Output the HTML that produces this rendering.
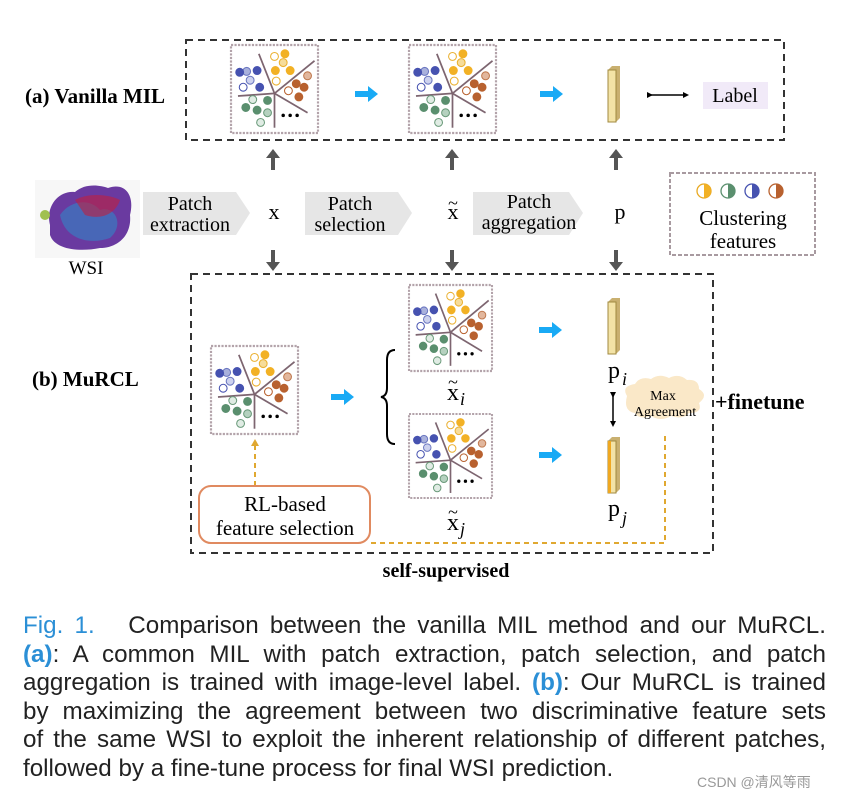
<!DOCTYPE html>
<html><head><meta charset="utf-8"><style>
body{margin:0;background:#fff;width:847px;height:802px;overflow:hidden;position:relative;font-family:"Liberation Serif",serif}
.cap{position:absolute;left:23px;top:612px;width:803px;font-family:"Liberation Sans",sans-serif;font-size:24.2px;line-height:28.6px;color:#222}
.cap div{text-align:justify;text-align-last:justify;white-space:nowrap;height:28.6px}
.cap div.l{text-align-last:left}
.cap b{color:#2b8fd6;font-weight:bold}
.blue{color:#2b8fd6}
</style></head><body>
<svg width="847" height="600" style="position:absolute;left:0;top:0" font-family="Liberation Serif, serif">
<defs>
<g id="pt">
<rect x="0" y="0" width="100" height="100" fill="#fff" stroke="#b3a3aa" stroke-width="2.5" stroke-dasharray="2.5,1.5"/>
<g stroke="#7d6570" stroke-width="2" fill="none">
<line x1="50" y1="55" x2="32" y2="10"/><line x1="50" y1="55" x2="96" y2="18"/><line x1="50" y1="55" x2="88" y2="77"/><line x1="50" y1="55" x2="50" y2="94"/><line x1="50" y1="55" x2="8" y2="58"/></g>
<g stroke-width="1.2">
<circle cx="18" cy="30" r="4.5" fill="#a9b1dc" stroke="#6a76c0"/><circle cx="10" cy="31" r="4.5" fill="#4652b0" stroke="#4652b0"/><circle cx="30" cy="29" r="4.5" fill="#4652b0" stroke="#4652b0"/><circle cx="22" cy="40" r="4.5" fill="#cdd2ee" stroke="#6a76c0"/><circle cx="14" cy="48" r="4.5" fill="#fff" stroke="#4652b0"/><circle cx="33" cy="48" r="4.5" fill="#4652b0" stroke="#4652b0"/>
<circle cx="50" cy="13" r="4.5" fill="#fff" stroke="#eab030"/><circle cx="62" cy="10" r="4.5" fill="#f2b125" stroke="#f2b125"/><circle cx="60" cy="20" r="4.5" fill="#f6dc9a" stroke="#eab030"/><circle cx="51" cy="29" r="4.5" fill="#f2b125" stroke="#f2b125"/><circle cx="68" cy="29" r="4.5" fill="#f2b125" stroke="#f2b125"/><circle cx="52" cy="41" r="4.5" fill="#fff" stroke="#eab030"/>
<circle cx="88" cy="35" r="4.5" fill="#e2b79d" stroke="#c07a50"/><circle cx="75" cy="44" r="4.5" fill="#b8612f" stroke="#b8612f"/><circle cx="84" cy="48" r="4.5" fill="#b8612f" stroke="#b8612f"/><circle cx="66" cy="52" r="4.5" fill="#fff" stroke="#b8612f"/><circle cx="78" cy="59" r="4.5" fill="#b8612f" stroke="#b8612f"/>
<circle cx="25" cy="62" r="4.5" fill="#e0ece4" stroke="#6a9a7a"/><circle cx="42" cy="63" r="4.5" fill="#5a8f6e" stroke="#5a8f6e"/><circle cx="17" cy="71" r="4.5" fill="#5a8f6e" stroke="#5a8f6e"/><circle cx="30" cy="74" r="4.5" fill="#5a8f6e" stroke="#5a8f6e"/><circle cx="42" cy="77" r="4.5" fill="#b5d1bf" stroke="#6a9a7a"/><circle cx="34" cy="88" r="4.5" fill="#e0ece4" stroke="#6a9a7a"/>
</g>
<g fill="#000"><circle cx="60" cy="80" r="2"/><circle cx="68" cy="80" r="2"/><circle cx="76" cy="80" r="2"/></g>
</g>
<marker id="ba" markerWidth="6" markerHeight="6" refX="3" refY="3" orient="auto" markerUnits="userSpaceOnUse"><path d="M0,0 L6,3 L0,6Z" fill="#000"/></marker>
</defs>
<rect x="186" y="40" width="598" height="100" fill="none" stroke="#333" stroke-width="2" stroke-dasharray="7,5"/>
<text x="25" y="103" font-size="21" font-weight="bold">(a) Vanilla MIL</text>
<use href="#pt" transform="translate(231,45) scale(0.87,0.88)"/>
<use href="#pt" transform="translate(409,45) scale(0.87,0.88)"/>
<g fill="#19aaf5"><path d="M355,91 h13 v-5 l10,8 l-10,8 v-5 h-13z"/><path d="M540,91 h13 v-5 l10,8 l-10,8 v-5 h-13z"/>
<path d="M331,394 h13 v-5 l10,8 l-10,8 v-5 h-13z"/><path d="M539,327 h13 v-5 l10,8 l-10,8 v-5 h-13z"/><path d="M539,452 h13 v-5 l10,8 l-10,8 v-5 h-13z"/></g>
<g><path d="M608,70 l4,-4 h8 v52 l-4,4z" fill="#c9b070"/><rect x="608" y="70" width="8" height="52" fill="#f3e3a6" stroke="#a08a40" stroke-width="1"/></g>
<g><path d="M608,302 l4,-4 h8 v52 l-4,4z" fill="#c9b070"/><rect x="608" y="302" width="8" height="52" fill="#f3e3a6" stroke="#a08a40" stroke-width="1"/></g>
<g><path d="M608,441 l4,-4 h8 v52 l-4,4z" fill="#c9b070"/><rect x="608" y="441" width="8" height="52" fill="#f3e3a6" stroke="#a08a40" stroke-width="1"/><rect x="608" y="441" width="3" height="52" fill="#f0a820"/></g>
<line x1="650" y1="95" x2="686" y2="95" stroke="#000" stroke-width="1.5" marker-start="url(#ba)" marker-end="url(#ba)"/>
<rect x="703" y="82" width="65" height="27" fill="#f1eaf8"/>
<text x="735" y="102" font-size="20" text-anchor="middle">Label</text>
<g fill="#555">
<path d="M271,170 v-12 h-5 l7,-9 l7,9 h-5 v12z"/><path d="M450,170 v-12 h-5 l7,-9 l7,9 h-5 v12z"/><path d="M614,170 v-12 h-5 l7,-9 l7,9 h-5 v12z"/>
<path d="M271,250 v12 h-5 l7,9 l7,-9 h-5 v-12z"/><path d="M450,250 v12 h-5 l7,9 l7,-9 h-5 v-12z"/><path d="M614,250 v12 h-5 l7,9 l7,-9 h-5 v-12z"/>
</g>
<rect x="35" y="180" width="105" height="78" fill="#f7f7f7"/>
<path d="M50,225 C45,205 60,190 75,192 C85,183 100,185 108,188 C125,182 135,195 130,215 C132,235 118,248 100,248 C80,252 55,250 50,235Z" fill="#6a3aa0"/>
<path d="M60,215 C70,200 90,198 100,210 C115,205 125,225 110,238 C90,245 65,240 60,215Z" fill="#3a7ac0" opacity="0.7"/>
<path d="M75,200 C90,192 110,195 120,200 C115,215 100,220 85,215Z" fill="#c02040" opacity="0.6"/>
<circle cx="45" cy="215" r="5" fill="#a0c050"/>
<text x="86" y="274" font-size="19" text-anchor="middle">WSI</text>
<g fill="#e6e6e6"><path d="M143,192 h93 l14,21 l-14,22 h-93z"/><path d="M305,192 h93 l14,21 l-14,22 h-93z"/><path d="M473,192 h96 l14,21 l-14,22 h-96z"/></g>
<g font-size="20" text-anchor="middle"><text x="190" y="210">Patch</text><text x="190" y="231">extraction</text>
<text x="350" y="210">Patch</text><text x="350" y="231">selection</text>
<text x="529" y="208">Patch</text><text x="529" y="229">aggregation</text></g>
<text x="274" y="219" font-size="22" text-anchor="middle">x</text>
<text x="453" y="219" font-size="22" text-anchor="middle">x</text><text x="453" y="209" font-size="18" text-anchor="middle">~</text>
<text x="620" y="219" font-size="22" text-anchor="middle">p</text>
<rect x="670" y="173" width="145" height="82" fill="#fff" stroke="#a89aa0" stroke-width="2" stroke-dasharray="4,2"/>
<g stroke-width="1.3">
<circle cx="704" cy="191" r="7" fill="#fff" stroke="#e8a820"/><path d="M704,184 a7,7 0 0,1 0,14z" fill="#f2b125"/>
<circle cx="728" cy="191" r="7" fill="#fff" stroke="#5a8f6e"/><path d="M728,184 a7,7 0 0,1 0,14z" fill="#5a8f6e"/>
<circle cx="752" cy="191" r="7" fill="#fff" stroke="#4652b0"/><path d="M752,184 a7,7 0 0,1 0,14z" fill="#4652b0"/>
<circle cx="776" cy="191" r="7" fill="#fff" stroke="#b8612f"/><path d="M776,184 a7,7 0 0,1 0,14z" fill="#b8612f"/>
</g>
<text x="743" y="225" font-size="21" text-anchor="middle">Clustering</text>
<text x="743" y="248" font-size="21" text-anchor="middle">features</text>
<rect x="191" y="274" width="522" height="279" fill="none" stroke="#333" stroke-width="2" stroke-dasharray="7,5"/>
<text x="32" y="386" font-size="21" font-weight="bold">(b) MuRCL</text>
<use href="#pt" transform="translate(211,346) scale(0.87,0.88)"/>
<use href="#pt" transform="translate(409,285) scale(0.83,0.86)"/>
<use href="#pt" transform="translate(409,414) scale(0.83,0.84)"/>
<path d="M395,350 q-8,0 -8,10 v28 q0,8 -6,9 q6,1 6,9 v28 q0,10 8,10" fill="none" stroke="#000" stroke-width="2"/>
<text x="453" y="400" font-size="24" text-anchor="middle">x</text><text x="453" y="388" font-size="18" text-anchor="middle">~</text><text x="460" y="405" font-size="18" font-style="italic">i</text>
<text x="453" y="530" font-size="24" text-anchor="middle">x</text><text x="453" y="518" font-size="18" text-anchor="middle">~</text><text x="460" y="535" font-size="18" font-style="italic">j</text>
<text x="614" y="378" font-size="24" text-anchor="middle">p</text><text x="622" y="385" font-size="18" font-style="italic">i</text>
<text x="614" y="516" font-size="24" text-anchor="middle">p</text><text x="622" y="524" font-size="18" font-style="italic">j</text>
<line x1="613" y1="395" x2="613" y2="424" stroke="#000" stroke-width="1.5" marker-start="url(#ba)" marker-end="url(#ba)"/>
<path d="M627,396 q-6,-10 8,-12 q5,-8 16,-5 q8,-6 18,-1 q10,-5 18,2 q12,-1 12,9 q10,6 0,14 q4,10 -10,10 q-6,7 -18,3 q-10,6 -20,0 q-12,4 -16,-3 q-12,-2 -8,-17z" fill="#fae8c8"/>
<text x="663" y="400" font-size="14" text-anchor="middle">Max</text>
<text x="665" y="416" font-size="14" text-anchor="middle">Agreement</text>
<text x="715" y="409" font-size="22" font-weight="bold">+finetune</text>
<g stroke="#e0a830" stroke-width="2" stroke-dasharray="5,4" fill="none">
<line x1="255" y1="486" x2="255" y2="444"/>
<polyline points="371,543 665,543 665,432"/></g>
<path d="M251,446 l4,-7 l4,7z" fill="#e0a830"/>
<rect x="199" y="486" width="171" height="57" rx="12" fill="#fff" stroke="#e08a60" stroke-width="2"/>
<text x="285" y="511" font-size="21" text-anchor="middle">RL-based</text>
<text x="285" y="535" font-size="21" text-anchor="middle">feature selection</text>
<text x="446" y="577" font-size="20" font-weight="bold" text-anchor="middle">self-supervised</text>
</svg>
<div class="cap">
<div><span class="blue">Fig.&nbsp;1.</span>&nbsp;&nbsp;&nbsp;Comparison between the vanilla MIL method and our MuRCL.</div>
<div><b>(a)</b>: A common MIL with patch extraction, patch selection, and patch</div>
<div>aggregation is trained with image-level label. <b>(b)</b>: Our MuRCL is trained</div>
<div>by maximizing the agreement between two discriminative feature sets</div>
<div>of the same WSI to exploit the inherent relationship of different patches,</div>
<div class="l">followed by a fine-tune process for final WSI prediction.</div>
</div>
<div style="position:absolute;left:697px;top:772px;font-family:'Liberation Sans','Noto Sans CJK SC',sans-serif;font-size:14px;color:#999">CSDN @清风等雨</div>
</body></html>
